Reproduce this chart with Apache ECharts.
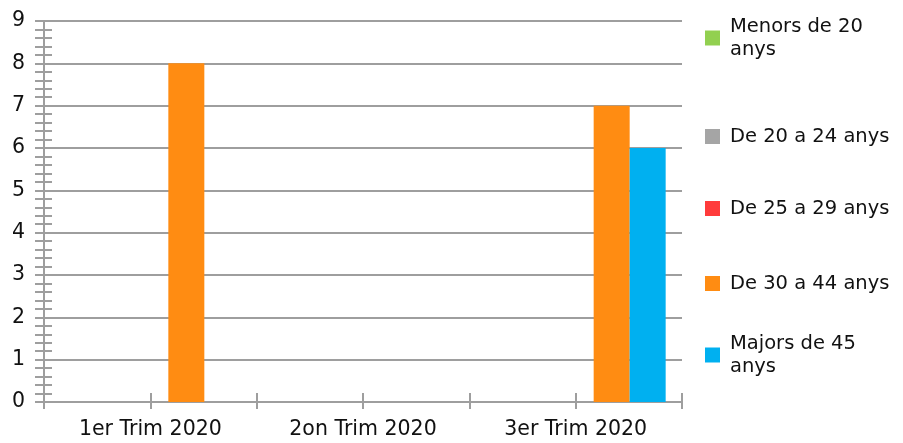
<!DOCTYPE html>
<html>
<head>
<meta charset="utf-8">
<script src="https://cdn.jsdelivr.net/npm/echarts@6/dist/echarts.min.js"></script>
<style>html,body{margin:0;padding:0;background:#fff;}#c{width:903px;height:443px;}</style>
</head>
<body>
<div id="c"></div>
<script>
var categories = ['1er Trim 2020', '2on Trim 2020', '3er Trim 2020'];
var seriesNames = ['Menors de 20 anys', 'De 20 a 24 anys', 'De 25 a 29 anys', 'De 30 a 44 anys', 'Majors de 45 anys'];
var legendLabels = ['Menors de 20\nanys', 'De 20 a 24 anys', 'De 25 a 29 anys', 'De 30 a 44 anys', 'Majors de 45\nanys'];
var colors = ['#92D050', '#A5A5A5', '#FF3B3B', '#FF8C12', '#00B0F0'];
var menors20 = [0, 0, 0];
var de20a24 = [0, 0, 0];
var de25a29 = [0, 0, 0];
var de30a44 = [8, 0, 7];
var majors45 = [0, 0, 6];
var yTicks = [0, 9, 1];

var values = [menors20, de20a24, de25a29, de30a44, majors45];
var FONT = 'DejaVu Sans';
var gridColor = '#9E9E9E';
var textColor = '#111';

var series = seriesNames.map(function (n, i) {
  return {
    name: n, type: 'bar', data: values[i], xAxisIndex: 0, yAxisIndex: 0,
    barWidth: 36, barGap: '0%',
    itemStyle: { color: colors[i] }
  };
});

var legendTops = [15, 113, 185, 260, 332];
var legends = seriesNames.map(function (n, i) {
  var twoLine = legendLabels[i].indexOf('\n') >= 0;
  return {
    data: [n], orient: 'vertical', left: 705, top: legendTops[i], padding: 0,
    icon: 'rect', itemWidth: 15, itemHeight: 15,
    formatter: function () { return legendLabels[i]; },
    textStyle: {
      fontFamily: FONT, fontSize: 19.5, color: textColor,
      lineHeight: 23,
      padding: twoLine ? [0, 0, 0, 5] : [0, 0, 24, 5]
    }
  };
});

var option = {
  backgroundColor: '#fff',
  animation: false,
  color: colors,
  legend: legends,
  grid: { left: 44, right: 221, top: 21, bottom: 41, containLabel: false },
  xAxis: [
    {
      type: 'category', data: categories,
      axisLine: { lineStyle: { color: gridColor, width: 2 } },
      axisTick: { show: false },
      axisLabel: { fontFamily: FONT, fontSize: 20.5, color: textColor, margin: 17 }
    },
    {
      type: 'value', min: 0, max: 6, interval: 1, position: 'bottom', offset: -9,
      axisLine: { show: false },
      axisTick: { show: true, length: 16, lineStyle: { color: gridColor, width: 2 } },
      axisLabel: { show: false }, splitLine: { show: false }
    }
  ],
  yAxis: [
    {
      type: 'value', min: yTicks[0], max: yTicks[1], interval: yTicks[2],
      axisLine: { show: true, lineStyle: { color: gridColor, width: 2 } },
      axisTick: { show: false },
      axisLabel: { fontFamily: FONT, fontSize: 20.5, color: textColor, margin: 19 },
      splitLine: { show: true, lineStyle: { color: gridColor, width: 2 } }
    },
    {
      type: 'value', min: yTicks[0], max: yTicks[1], interval: yTicks[2], position: 'left', offset: -8,
      axisLine: { show: false },
      axisTick: { show: true, length: 17, lineStyle: { color: gridColor, width: 2 } },
      minorTick: { show: true, splitNumber: 5, length: 17, lineStyle: { color: gridColor, width: 2 } },
      axisLabel: { show: false }, splitLine: { show: false }
    }
  ],
  series: series
};

var chart = echarts.init(document.getElementById('c'), null, { renderer: 'canvas' });
chart.setOption(option);
</script>
</body>
</html>
